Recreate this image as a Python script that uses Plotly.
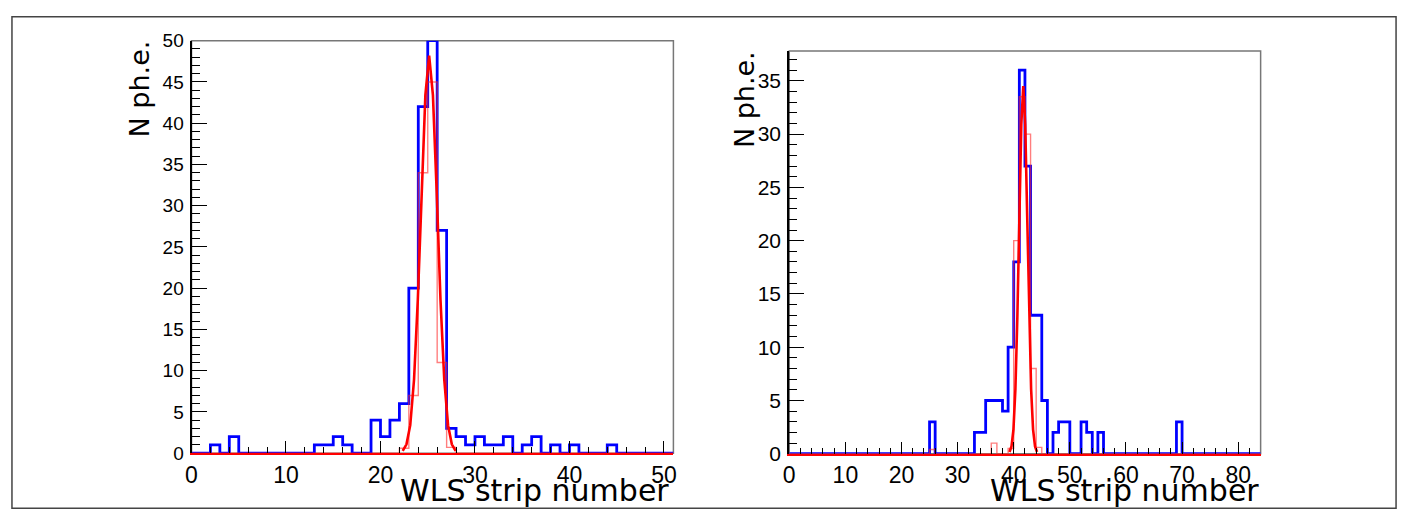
import plotly.graph_objects as go

W, H = 1408, 524

# ---------------- data ----------------
# Left panel: photo-electrons per WLS strip (bins of width 1 starting at 0)
left_nbins = 51
left_blue = {2: 1, 4: 2, 13: 1, 14: 1, 15: 2, 16: 1, 19: 4, 20: 2, 21: 4, 22: 6,
             23: 20, 24: 42, 25: 50, 26: 27, 27: 3, 28: 2, 29: 1, 30: 2, 31: 1,
             32: 1, 33: 2, 35: 1, 36: 2, 38: 1, 40: 1, 44: 1}
left_red = {22: 0.6, 23: 7, 24: 34, 25: 45, 26: 11, 27: 0.7}
left_fit_x = [22.35, 22.75, 23.15, 23.55, 23.95, 24.35, 24.75, 25.15, 25.55,
              25.95, 26.35, 26.75, 27.15, 27.55, 27.95]
left_fit_y = [0.27, 1.07, 3.4, 8.9, 18.6, 31.6, 43.4, 48.2, 43.4, 31.6, 18.6,
              8.9, 3.4, 1.07, 0.27]

# Right panel
right_nbins = 84
right_blue = {25: 3, 33: 2, 34: 2, 35: 5, 36: 5, 37: 5, 38: 4, 39: 10, 40: 18,
              41: 36, 42: 27, 43: 13, 44: 13, 45: 5, 47: 2, 48: 3, 49: 3,
              52: 3, 53: 2, 55: 2, 69: 3}
right_red = {25: 0.4, 36: 1, 39: 0.5, 40: 20, 41: 33.5, 42: 30, 43: 8, 44: 0.6}
right_fit_x = [39.25, 39.6, 39.95, 40.3, 40.65, 41.0, 41.35, 41.7, 42.05, 42.4,
               42.75, 43.1, 43.45, 43.8, 44.15]
right_fit_y = [0.17, 0.68, 2.27, 6.05, 12.9, 22.3, 30.9, 34.5, 30.9, 22.3, 12.9,
               6.05, 2.27, 0.68, 0.17]

x_title = "WLS strip number"
y_title = "N ph.e."


def step(nbins, d):
    counts = [d.get(i, 0) for i in range(nbins)]
    xs = list(range(nbins + 1))
    ys = counts + [counts[-1]]
    return xs, ys


fig = go.Figure()

panels = [
    dict(xa="x", ya="y", nb=left_nbins, blue=left_blue, red=left_red,
         fx=left_fit_x, fy=left_fit_y),
    dict(xa="x2", ya="y2", nb=right_nbins, blue=right_blue, red=right_red,
         fx=right_fit_x, fy=right_fit_y),
]

for p in panels:
    bx, by = step(p["nb"], p["blue"])
    fig.add_trace(go.Scatter(x=bx, y=by, mode="lines", line_shape="hv",
                             line=dict(color="#0000ff", width=2.8),
                             xaxis=p["xa"], yaxis=p["ya"], hoverinfo="skip"))
    rx, ry = step(p["nb"], p["red"])
    fig.add_trace(go.Scatter(x=rx, y=ry, mode="lines", line_shape="hv",
                             line=dict(color="rgba(255,40,40,0.6)", width=1.4),
                             xaxis=p["xa"], yaxis=p["ya"], hoverinfo="skip"))
    fig.add_trace(go.Scatter(x=p["fx"], y=p["fy"], mode="lines",
                             line=dict(color="#ff0000", width=2.6),
                             xaxis=p["xa"], yaxis=p["ya"], hoverinfo="skip"))

tick_font = "Liberation Sans, Arial, sans-serif"
title_font = "DejaVu Sans, Liberation Sans, sans-serif"


def xaxis_cfg(domain, rng):
    return dict(domain=domain, range=rng, showgrid=False,
                zeroline=False, showline=True, linecolor="#ff0000",
                linewidth=2, ticks="inside", ticklen=12, tickwidth=1.3,
                tickcolor="#000000", dtick=10, tick0=0,
                tickfont=dict(family=tick_font, size=23, color="#000000"),
                minor=dict(ticks="inside", ticklen=6, dtick=2, tick0=0,
                           tickcolor="#000000", tickwidth=1),
                fixedrange=True, ticklabelstandoff=0)


def yaxis_cfg(domain, rng, fs):
    return dict(domain=domain, range=rng, showgrid=False, zeroline=False,
                showline=True, linecolor="#000000", linewidth=2,
                ticks="inside", ticklen=15, tickwidth=1.3,
                tickcolor="#000000", dtick=5, tick0=0,
                tickfont=dict(family=tick_font, size=fs, color="#000000"),
                minor=dict(ticks="inside", ticklen=8, dtick=1, tick0=0,
                           tickcolor="#000000", tickwidth=1),
                fixedrange=True, ticklabelstandoff=2)


lx = [186.7 / W, 671.7 / W]
ly = [(H - 461.7) / H, (H - 32) / H]
rx_ = [788.3 / W, 1262.7 / W]
ry_ = [(H - 462.3) / H, (H - 42.7) / H]

xa1 = xaxis_cfg(lx, [0, left_nbins]); xa1["anchor"] = "y"
xa2 = xaxis_cfg(rx_, [0, right_nbins]); xa2["anchor"] = "y2"
ya1 = yaxis_cfg(ly, [0, 50], 19); ya1["anchor"] = "x"
ya2 = yaxis_cfg(ry_, [0, 37.8], 21); ya2["anchor"] = "x2"

shapes = [
    # outer canvas border
    dict(type="rect", xref="paper", yref="paper", x0=6 / W, x1=1399 / W,
         y0=(H - 519) / H, y1=(H - 7) / H, line=dict(color="#444444", width=1.5),
         layer="below"),
    # plot frames
    dict(type="rect", xref="x domain", yref="y domain", x0=0, x1=1, y0=0, y1=1,
         line=dict(color="#777777", width=1.5), layer="below"),
    dict(type="rect", xref="x2 domain", yref="y2 domain", x0=0, x1=1, y0=0, y1=1,
         line=dict(color="#777777", width=1.5), layer="below"),
]

annotations = [
    dict(text=y_title, xref="paper", yref="paper", x=134 / W, y=(H - 30) / H,
         xanchor="center", yanchor="top", textangle=-90, showarrow=False,
         font=dict(family=title_font, size=27, color="#000000")),
    dict(text=y_title, xref="paper", yref="paper", x=744 / W, y=(H - 41) / H,
         xanchor="center", yanchor="top", textangle=-90, showarrow=False,
         font=dict(family=title_font, size=27, color="#000000")),
    dict(text=x_title, xref="paper", yref="paper", x=669 / W, y=(H - 521) / H,
         xanchor="right", yanchor="bottom", showarrow=False,
         font=dict(family=title_font, size=30, color="#000000")),
    dict(text=x_title, xref="paper", yref="paper", x=1263 / W, y=(H - 521) / H,
         xanchor="right", yanchor="bottom", showarrow=False,
         font=dict(family=title_font, size=30, color="#000000")),
]

fig.update_layout(
    width=W, height=H, margin=dict(l=0, r=0, t=0, b=0, pad=0),
    paper_bgcolor="white", plot_bgcolor="white", showlegend=False,
    xaxis=xa1, yaxis=ya1, xaxis2=xa2, yaxis2=ya2,
    shapes=shapes, annotations=annotations,
)

fig.write_html(
    "out.html",
    config={"displayModeBar": False},
    post_script=(
        "document.body.style.margin='0';document.body.style.overflow='hidden';"
        "var d=document.getElementsByClassName('plotly-graph-div')[0];"
        "d.style.position='fixed';d.style.left='0px';d.style.top='0px';"
    ),
)
